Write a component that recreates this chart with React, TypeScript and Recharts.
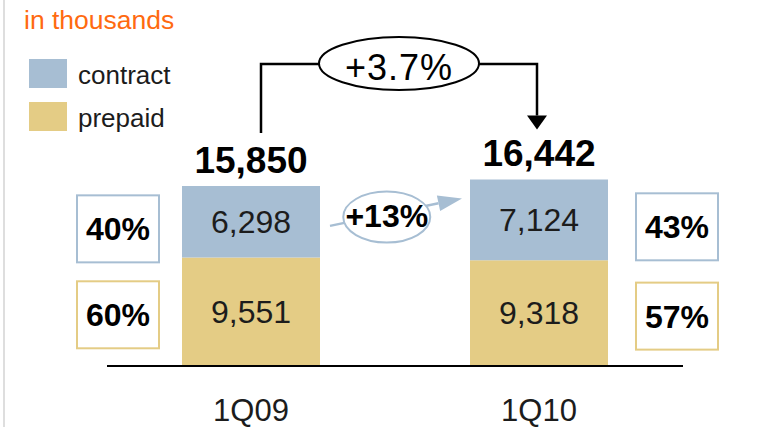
import React from "react";
import { BarChart, Bar, XAxis, YAxis, LabelList } from "recharts";

// subscribers, in thousands
const periods = ["1Q09", "1Q10"];
const contractSubs = [6298, 7124];
const prepaidSubs = [9551, 9318];
const totalSubs = [15850, 16442];
const seriesNames = ["contract", "prepaid"];

const BLUE = "#a7bed3";
const GOLD = "#e4cc85";
const ORANGE = "#ff6a10";
const INK = "#1c1c1c";
const FONT = '"Liberation Sans", Arial, Helvetica, sans-serif';

const rows = periods.map((period, i) => ({
  period,
  contract: contractSubs[i],
  prepaid: prepaidSubs[i],
  total: totalSubs[i],
}));

const fmt = (v: number) => v.toLocaleString("en-US");
const pct = (part: number, whole: number) => `${Math.round((part / whole) * 100)}%`;

const totalGrowth = `+${((totalSubs[1] / totalSubs[0] - 1) * 100).toFixed(1)}%`;
const contractGrowth = `+${Math.round((contractSubs[1] / contractSubs[0] - 1) * 100)}%`;

type Box = { x: number; y: number; width: number; height: number };

const getBox = (props: any): Box => {
  const vb = props.viewBox ?? props;
  return { x: +vb.x, y: +vb.y, width: +vb.width, height: +vb.height };
};

function PctBox({ x, cy, color, text }: { x: number; cy: number; color: string; text: string }) {
  const w = 82;
  const h = 67;
  return (
    <g>
      <rect x={x} y={cy - h / 2} width={w} height={h} fill="#fff" stroke={color} strokeWidth={2} />
      <text x={x + w / 2} y={cy + 11.5} textAnchor="middle" fontSize={32} fontWeight="bold" fill="#000" fontFamily={FONT}>
        {text}
      </text>
    </g>
  );
}

export default function App() {
  // bar geometry collected while labels render, used for the connector arrows
  const geo: Record<string, Box[]> = { contract: [], prepaid: [] };

  const sideX = (b: Box, index: number) => (index === 0 ? b.x - 105 : b.x + b.width + 28);

  const prepaidLabel = (props: any) => {
    const b = getBox(props);
    const i = props.index;
    geo.prepaid[i] = b;
    const cy = b.y + b.height / 2;
    return (
      <g>
        <text x={b.x + b.width / 2} y={cy + 11} textAnchor="middle" fontSize={32} fill={INK} fontFamily={FONT}>
          {fmt(prepaidSubs[i])}
        </text>
        <PctBox x={sideX(b, i)} cy={cy + 3} color={GOLD} text={pct(prepaidSubs[i], totalSubs[i])} />
      </g>
    );
  };

  const contractLabel = (props: any) => {
    const b = getBox(props);
    const i = props.index;
    geo.contract[i] = b;
    const cx = b.x + b.width / 2;
    const cy = b.y + b.height / 2;
    let arrows = null;
    const c0 = geo.contract[0];
    if (i === 1 && c0) {
      // total growth connector
      const x0 = c0.x + c0.width / 2 + 10;
      const x1 = cx - 2;
      const yTop = 64;
      const tip = b.y - 50;
      const mid = (x0 + x1) / 2;
      // contract growth arrow
      const sx = c0.x + c0.width + 10;
      const sy = c0.y + c0.height / 2 + 4;
      const ex = b.x - 8;
      const ey = b.y + 19;
      const len = Math.hypot(ex - sx, ey - sy);
      const ux = (ex - sx) / len;
      const uy = (ey - sy) / len;
      const bx = ex - ux * 24;
      const by = ey - uy * 24;
      const ecx = sx + (ex - sx) * 0.43;
      const ecy = sy + (ey - sy) * 0.43 + 3;
      arrows = (
        <g>
          <path
            d={`M${x0},${c0.y - 53} V${yTop} H${mid - 80} M${mid + 80},${yTop} H${x1} V${tip - 14}`}
            fill="none"
            stroke="#000"
            strokeWidth={2.5}
          />
          <polygon points={`${x1 - 10},${tip - 14} ${x1 + 10},${tip - 14} ${x1},${tip}`} fill="#000" />
          <ellipse cx={mid} cy={yTop - 0.5} rx={80} ry={26.5} fill="#fff" stroke="#000" strokeWidth={2} />
          <text x={mid} y={yTop + 16} textAnchor="middle" fontSize={36} letterSpacing={1} fill="#000" fontFamily={FONT}>
            {totalGrowth}
          </text>

          <line x1={sx} y1={sy} x2={bx} y2={by} stroke={BLUE} strokeWidth={2.5} />
          <polygon
            points={`${ex},${ey} ${bx - uy * 8},${by + ux * 8} ${bx + uy * 8},${by - ux * 8}`}
            fill={BLUE}
          />
          <ellipse cx={ecx} cy={ecy} rx={43.5} ry={25.5} fill="#fff" stroke={BLUE} strokeWidth={2} />
          <text x={ecx} y={ecy + 10} textAnchor="middle" fontSize={32} fontWeight="bold" fill="#000" fontFamily={FONT}>
            {contractGrowth}
          </text>
        </g>
      );
    }
    return (
      <g>
        <text x={cx} y={cy + 11} textAnchor="middle" fontSize={32} fill={INK} fontFamily={FONT}>
          {fmt(contractSubs[i])}
        </text>
        <text x={cx} y={b.y - 13} textAnchor="middle" fontSize={37} fontWeight="bold" fill="#000" fontFamily={FONT}>
          {fmt(totalSubs[i])}
        </text>
        <PctBox x={sideX(b, i)} cy={cy + 7} color={BLUE} text={pct(contractSubs[i], totalSubs[i])} />
        {arrows}
      </g>
    );
  };

  const colors: Record<string, string> = { contract: BLUE, prepaid: GOLD };

  return (
    <div style={{ position: "absolute", left: 0, top: 0, width: 780, height: 427, background: "#fff", fontFamily: FONT }}>
      <div style={{ position: "absolute", left: 3, top: 0, width: 2, height: 427, background: "#dedede" }} />
      <div style={{ position: "absolute", left: 24, top: 7, fontSize: 26.5, lineHeight: 1, color: ORANGE }}>in thousands</div>
      {seriesNames.map((name, i) => (
        <div key={name} style={{ position: "absolute", left: 29, top: 59 + i * 43, height: 29 }}>
          <div style={{ position: "absolute", left: 0, top: 0, width: 38, height: 29, background: colors[name] }} />
          <div style={{ position: "absolute", left: 49, top: 3, fontSize: 26, lineHeight: 1, color: INK, whiteSpace: "nowrap" }}>
            {name}
          </div>
        </div>
      ))}
      <div style={{ position: "absolute", left: 0, top: 0 }}>
        <BarChart width={780} height={427} data={rows} margin={{ top: 139, right: 97, bottom: 11, left: 107 }}>
          <YAxis hide domain={[0, 20000]} />
          <XAxis
            dataKey="period"
            height={50}
            axisLine={{ stroke: "#000", strokeWidth: 2 }}
            tickLine={false}
            tickMargin={27}
            tick={{ fontSize: 31, fill: INK, fontFamily: FONT }}
          />
          <Bar dataKey="prepaid" stackId="s" fill={GOLD} barSize={138} isAnimationActive={false}>
            <LabelList dataKey="prepaid" content={prepaidLabel} />
          </Bar>
          <Bar dataKey="contract" stackId="s" fill={BLUE} barSize={138} isAnimationActive={false}>
            <LabelList dataKey="contract" content={contractLabel} />
          </Bar>
        </BarChart>
      </div>
    </div>
  );
}
